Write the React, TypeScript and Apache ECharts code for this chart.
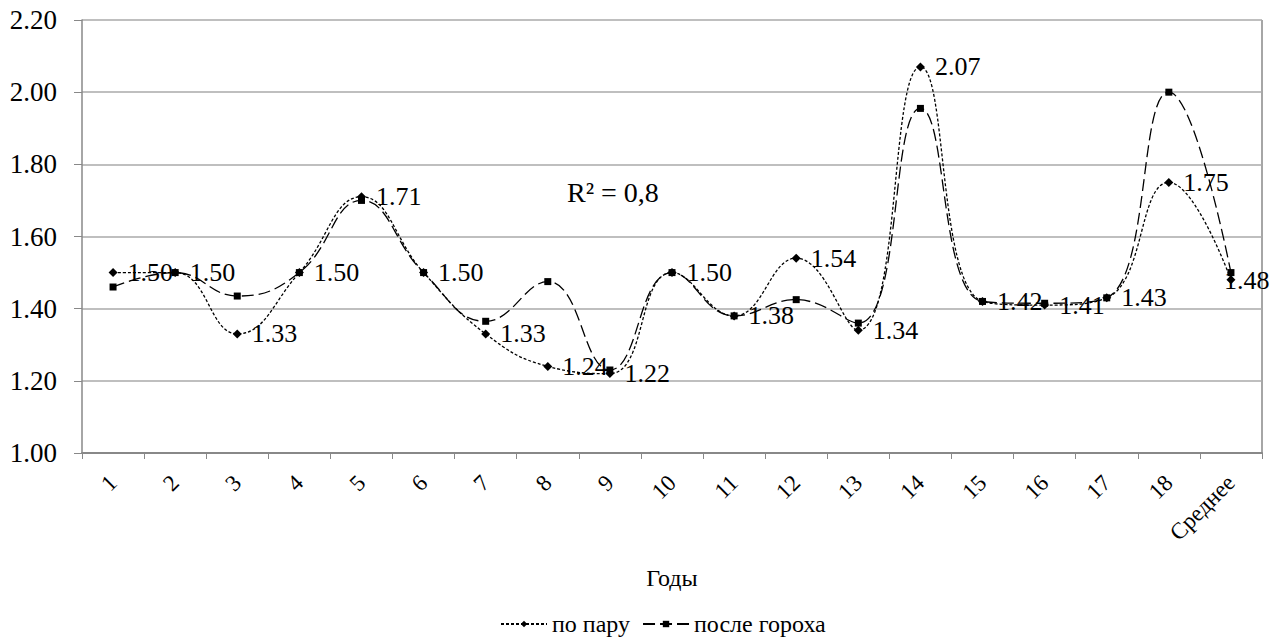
import React, { useEffect, useRef } from "react";
import * as echarts from "echarts";

const categories = ["1", "2", "3", "4", "5", "6", "7", "8", "9", "10", "11", "12", "13", "14", "15", "16", "17", "18", "Среднее"];
const poParu = [1.5, 1.5, 1.33, 1.5, 1.71, 1.5, 1.33, 1.24, 1.22, 1.5, 1.38, 1.54, 1.34, 2.07, 1.42, 1.41, 1.43, 1.75, 1.48];
const posleGorokha = [1.46, 1.5, 1.435, 1.5, 1.7, 1.5, 1.365, 1.475, 1.23, 1.5, 1.38, 1.425, 1.36, 1.955, 1.42, 1.415, 1.43, 2.0, 1.5];
const yTicks = { min: 1.0, max: 2.2, interval: 0.2 };

const FONT = "'Liberation Serif', 'Times New Roman', serif";

export default function App() {
  const ref = useRef<HTMLDivElement>(null);
  useEffect(() => {
    if (!ref.current) return;
    const chart = echarts.init(ref.current, undefined, { renderer: "svg" });
    const lastIdx = poParu.length - 1;
    const fmt = (p: any) => Number(p.value).toFixed(2);
    chart.setOption({
      animation: false,
      backgroundColor: "#fff",
      textStyle: { fontFamily: FONT, color: "#000" },
      grid: { left: 82, right: 15, top: 20, bottom: 186 },
      graphic: [
        {
          id: "r2",
          type: "text",
          left: 567,
          top: 178,
          style: { text: "R² = 0,8", font: `28px ${FONT}`, fill: "#000" },
        },
        {
          id: "border",
          type: "line",
          shape: { x1: 1262, y1: 20, x2: 1262, y2: 453 },
          style: { stroke: "#888", lineWidth: 1.5 },
        },
      ],
      legend: {
        top: 612,
        left: 500,
        padding: 0,
        itemWidth: 46,
        itemHeight: 8,
        itemGap: 12,
        textStyle: { fontFamily: FONT, fontSize: 24, color: "#000" },
        data: ["по пару", "после гороха"],
      },
      xAxis: {
        type: "category",
        data: categories,
        boundaryGap: true,
        name: "Годы",
        nameLocation: "middle",
        nameGap: 113,
        nameTextStyle: { fontFamily: FONT, fontSize: 24, color: "#000" },
        axisLine: { lineStyle: { color: "#888", width: 2 } },
        axisTick: { show: true, length: 6, lineStyle: { color: "#888" } },
        axisLabel: {
          rotate: 45,
          fontFamily: FONT,
          fontSize: 23,
          color: "#000",
          margin: 26,
          interval: 0,
        },
      },
      yAxis: {
        type: "value",
        min: yTicks.min,
        max: yTicks.max,
        interval: yTicks.interval,
        axisLine: { show: true, lineStyle: { color: "#888", width: 1.5 } },
        axisTick: { show: true, length: 8, lineStyle: { color: "#888" } },
        splitLine: { lineStyle: { color: "#aaa", width: 1.5 } },
        axisLabel: {
          fontFamily: FONT,
          fontSize: 27,
          color: "#000",
          margin: 25,
          formatter: (v: number) => v.toFixed(2),
        },
      },
      series: [
        {
          name: "по пару",
          type: "line",
          data: poParu.map((v, i) => (i === lastIdx ? { value: v, label: { show: false } } : v)),
          smooth: 0.45,
          symbol: "diamond",
          symbolSize: 9,
          itemStyle: { color: "#000" },
          lineStyle: { color: "#000", width: 1.3, type: [3, 2] },
          label: {
            show: true,
            position: "right",
            distance: 10,
            fontFamily: FONT,
            fontSize: 26,
            color: "#000",
            formatter: fmt,
          },
          z: 3,
        },
        {
          name: "после гороха",
          type: "line",
          data: posleGorokha,
          smooth: 0.45,
          symbol: "rect",
          symbolSize: 7,
          itemStyle: { color: "#000" },
          lineStyle: { color: "#000", width: 1.3, type: [12, 5] },
          z: 2,
        },
      ],
    });
    const pt = chart.convertToPixel({ xAxisIndex: 0, yAxisIndex: 0 }, [lastIdx, poParu[lastIdx]]) as number[];
    chart.setOption({
      graphic: [
        {
          id: "lastLabel",
          type: "text",
          x: pt[0] - 7,
          y: pt[1] + 1,
          z: 10,
          style: {
            text: poParu[lastIdx].toFixed(2),
            font: `26px ${FONT}`,
            fill: "#000",
            align: "left",
            verticalAlign: "middle",
          },
        },
      ],
    });
    return () => chart.dispose();
  }, []);
  return (
    <div
      ref={ref}
      style={{ position: "absolute", left: 0, top: 0, width: 1277, height: 639, background: "#fff" }}
    />
  );
}
